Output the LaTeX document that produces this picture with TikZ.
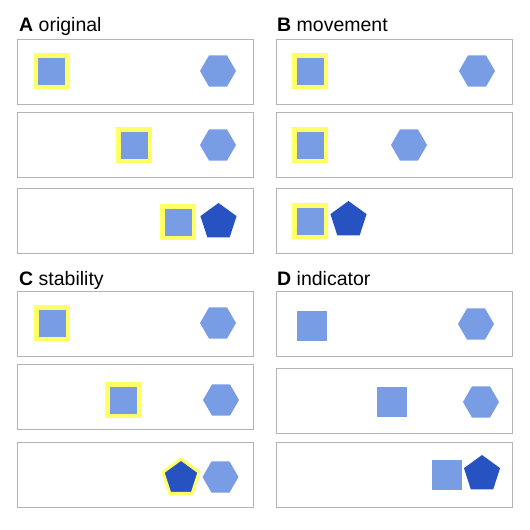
\documentclass[tikz,border=0pt]{standalone}
\usepackage{fontspec}
\setmainfont{Liberation Sans}
\definecolor{shapeblue}{RGB}{120,157,228}
\definecolor{darkpent}{RGB}{38,82,194}
\definecolor{hlyellow}{RGB}{255,255,102}
\definecolor{framegray}{RGB}{180,180,180}
\usetikzlibrary{shapes.geometric}

\begin{document}
\begin{tikzpicture}[x=1pt, y=-1pt,
        panel/.style={rectangle, draw=framegray, line width=1pt, minimum width=236pt,
                      minimum height=65pt, inner sep=0pt},
        sq/.style={rectangle, fill=shapeblue, minimum size=30pt, inner sep=0pt},
        hlsq/.style={sq, draw=hlyellow, line width=4.5pt, minimum size=31.5pt},
        hexa/.style={regular polygon, regular polygon sides=6, fill=shapeblue,
                     minimum size=36pt, inner sep=0pt},
        penta/.style={regular polygon, regular polygon sides=5, fill=darkpent,
                      minimum size=38pt, inner sep=0pt},
        hlpenta/.style={penta, draw=hlyellow, line width=3pt},
        ttl/.style={anchor=base west, inner sep=0pt, font=\fontsize{19.5}{23}\selectfont}
    ]
        \fill[white] (0,0) rectangle (530,530);
        \useasboundingbox (0,0) rectangle (530,530);

        % Panel titles
        \node[ttl] (ttlA) at (19,31) {\textbf{A} original};
        \node[ttl] (ttlB) at (277,31) {\textbf{B} movement};
        \node[ttl] (ttlC) at (19,285) {\textbf{C} stability};
        \node[ttl] (ttlD) at (277,285) {\textbf{D} indicator};

        % Frames
        \node[panel] (pA1) at (135.5,71.5) {};
        \node[panel] (pA2) at (135.5,144.5) {};
        \node[panel] (pA3) at (135.5,221) {};
        \node[panel] (pB1) at (394.5,71.5) {};
        \node[panel] (pB2) at (394.5,144.5) {};
        \node[panel] (pB3) at (394.5,221) {};
        \node[panel] (pC1) at (135.5,324) {};
        \node[panel] (pC2) at (135.5,396.5) {};
        \node[panel] (pC3) at (135.5,474.5) {};
        \node[panel] (pD1) at (394.5,324) {};
        \node[panel] (pD2) at (394.5,400.5) {};
        \node[panel] (pD3) at (394.5,474.5) {};

        % A original
        \node[hlsq] (sqA1) at (51.5,71) {};
        \node[hexa] (hxA1) at (218,71) {};
        \node[hlsq] (sqA2) at (134,145) {};
        \node[hexa] (hxA2) at (218,145) {};
        \node[hlsq] (sqA3) at (178,222) {};
        \node[penta] (ptA3) at (218.5,222) {};

        % B movement
        \node[hlsq] (sqB1) at (310,71) {};
        \node[hexa] (hxB1) at (477,71) {};
        \node[hlsq] (sqB2) at (310,145) {};
        \node[hexa] (hxB2) at (409,145) {};
        \node[hlsq] (sqB3) at (310,221) {};
        \node[penta] (ptB3) at (348.5,220) {};

        % C stability
        \node[hlsq] (sqC1) at (52,323) {};
        \node[hexa] (hxC1) at (218,323) {};
        \node[hlsq] (sqC2) at (123,400) {};
        \node[hexa] (hxC2) at (221,400) {};
        \node[hlpenta] (ptC3) at (181,478) {};
        \node[hexa] (hxC3) at (220.5,477) {};

        % D indicator
        \node[sq] (sqD1) at (312,326) {};
        \node[hexa] (hxD1) at (476,324) {};
        \node[sq] (sqD2) at (392,402) {};
        \node[hexa] (hxD2) at (481,402) {};
        \node[sq] (sqD3) at (447,475) {};
        \node[penta] (ptD3) at (482,474) {};
    \end{tikzpicture}
\end{document}
